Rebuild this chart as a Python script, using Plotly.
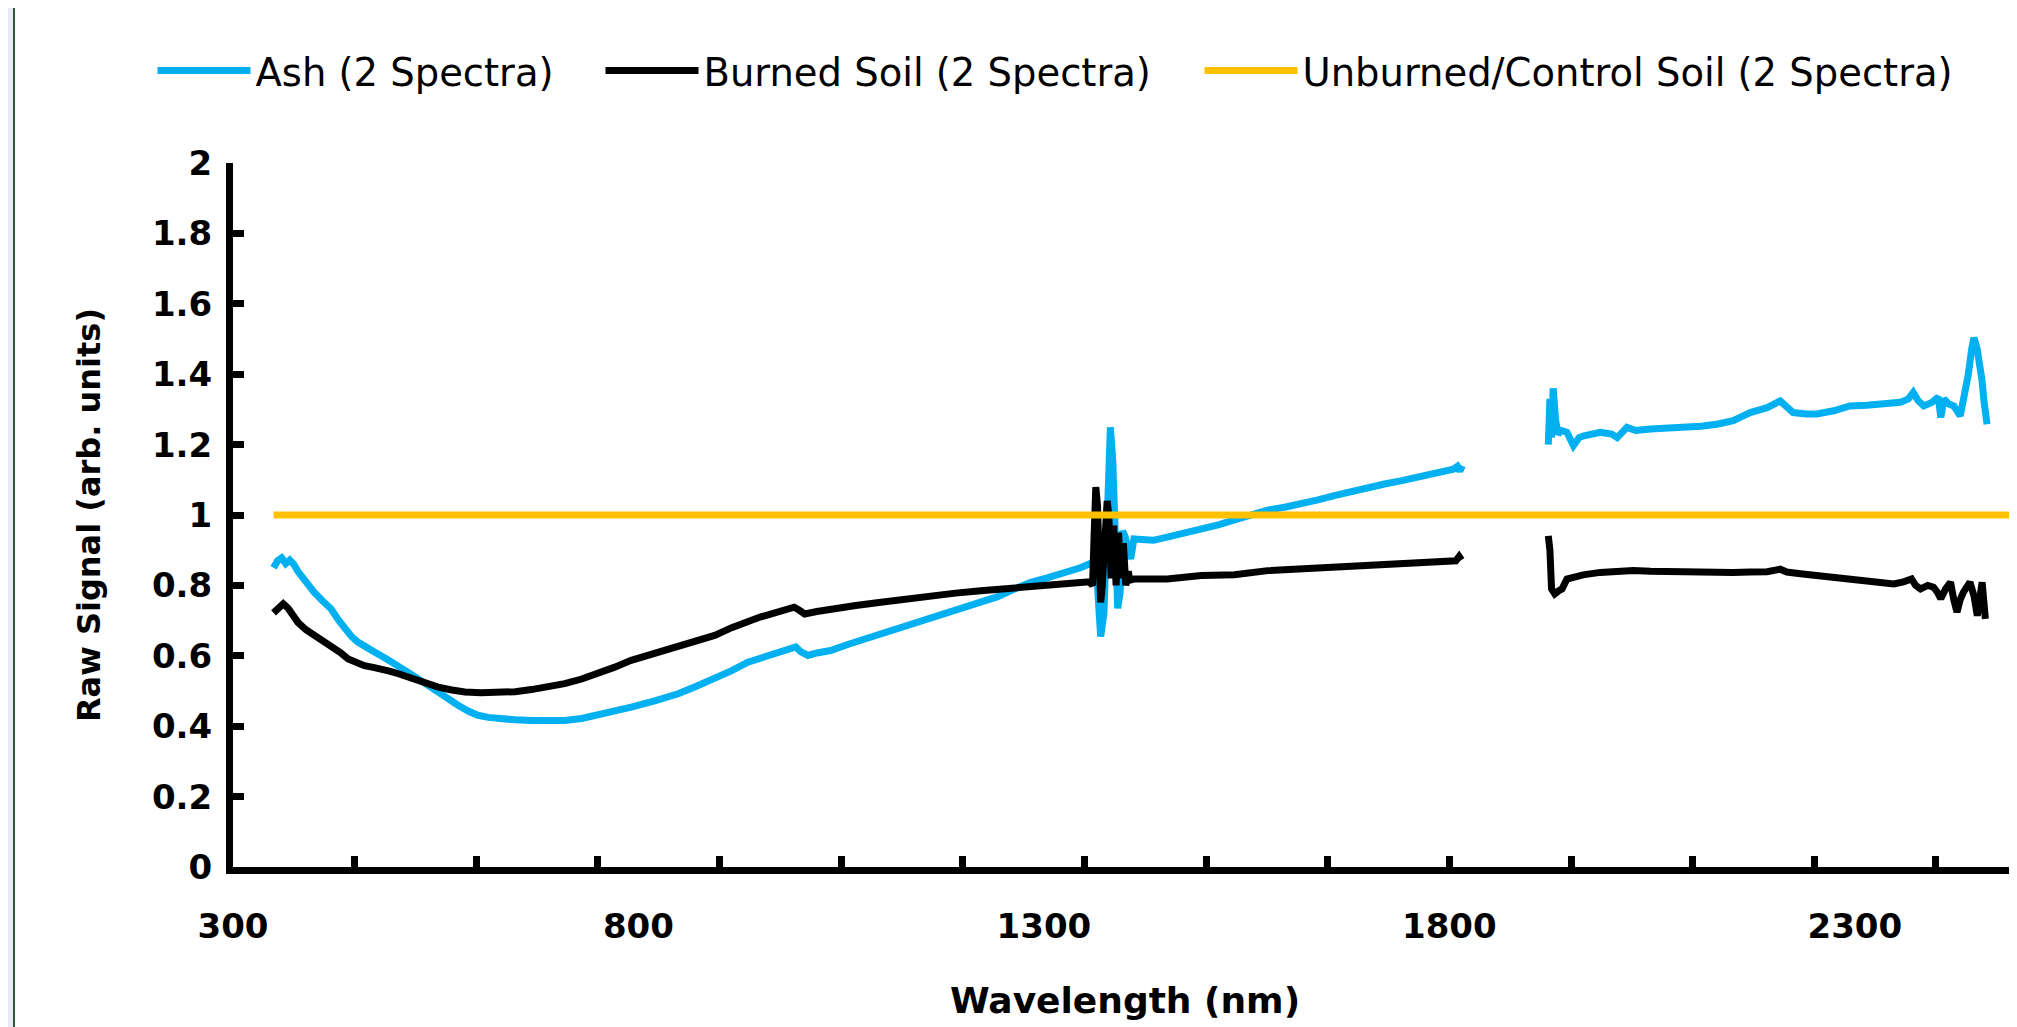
import plotly.graph_objects as go

# ---------------- data ----------------
ash_wl = [350, 355, 360, 365, 370, 375, 380, 390, 400, 410, 421, 430, 438, 446, 454, 465, 475, 490,
          504, 516, 528, 540, 553, 565, 578, 590, 602, 615, 627, 648, 668, 690, 709, 730, 750, 770,
          791, 820, 849, 870, 894, 915, 935, 955, 968, 982, 994, 1000, 1009, 1020, 1037, 1058, 1079,
          1100, 1120, 1140, 1161, 1180, 1202, 1222, 1243, 1264, 1284, 1305, 1325, 1345, 1355, 1362,
          1366, 1370, 1374, 1378, 1382, 1385, 1388, 1391, 1394, 1397, 1400, 1403, 1407, 1411, 1420,
          1435, 1452, 1473, 1494, 1515, 1535, 1556, 1576, 1597, 1617, 1638, 1658, 1679, 1699, 1720,
          1740, 1761, 1781, 1795, 1805, 1810, 1813, 1816, 1870,
          1922, 1924, 1926, 1928, 1931, 1934, 1938, 1945, 1953, 1960, 1966, 1986, 2000, 2007, 2019,
          2030, 2048, 2068, 2089, 2110, 2130, 2150, 2171, 2192, 2208, 2216, 2224, 2240, 2253, 2274,
          2294, 2315, 2335, 2356, 2366, 2372, 2378, 2385, 2395, 2403, 2406, 2410, 2416, 2422, 2430,
          2436, 2440, 2444, 2447, 2451, 2454, 2457, 2459, 2463]
ash_val = [0.850, 0.870, 0.878, 0.862, 0.872, 0.860, 0.840, 0.808, 0.781, 0.757, 0.733, 0.702, 0.677,
           0.655, 0.639, 0.622, 0.610, 0.590, 0.572, 0.553, 0.535, 0.516, 0.497, 0.477, 0.459, 0.443,
           0.431, 0.425, 0.421, 0.418, 0.416, 0.415, 0.416, 0.422, 0.431, 0.442, 0.454, 0.472, 0.492,
           0.512, 0.535, 0.558, 0.582, 0.597, 0.606, 0.613, 0.625, 0.612, 0.601, 0.608, 0.615, 0.632,
           0.648, 0.663, 0.677, 0.693, 0.710, 0.724, 0.738, 0.752, 0.768, 0.790, 0.809, 0.822, 0.835,
           0.850, 0.860, 0.868, 0.800, 0.655, 0.720, 0.980, 1.249, 1.150, 0.900, 0.735, 0.780, 0.955,
           0.940, 0.900, 0.875, 0.932, 0.930, 0.928, 0.937, 0.948, 0.960, 0.972, 0.986, 1.000, 1.014,
           1.022, 1.031, 1.043, 1.055, 1.067, 1.079, 1.088, 1.097, 1.107, 1.116, 1.122, 1.130, 1.138,
           1.125, 1.140, None,
           1.200, 1.330, 1.220, 1.360, 1.270, 1.230, 1.240, 1.235, 1.197, 1.220, 1.225, 1.235, 1.230,
           1.220, 1.249, 1.240, 1.244, 1.245, 1.249, 1.252, 1.258, 1.268, 1.291, 1.305, 1.324, 1.310,
           1.291, 1.287, 1.287, 1.296, 1.310, 1.312, 1.315, 1.320, 1.330, 1.348, 1.325, 1.310, 1.320,
           1.335, 1.277, 1.330, 1.315, 1.310, 1.282, 1.340, 1.400, 1.470, 1.504, 1.470, 1.433, 1.380,
           1.329, 1.258]

burned_wl = [350, 356, 362, 368, 375, 380, 390, 401, 411, 421, 432, 442, 452, 462, 473, 483, 494, 504,
             516, 528, 540, 553, 570, 586, 606, 627, 648, 668, 688, 709, 730, 750, 770, 791, 820, 849,
             872, 894, 915, 935, 950, 964, 978, 992, 998, 1005, 1020, 1037, 1068, 1099, 1130, 1161,
             1191, 1222, 1253, 1284, 1305, 1325, 1345, 1356, 1360, 1362, 1364, 1366, 1368, 1370, 1372,
             1375, 1378, 1380, 1383, 1386, 1389, 1392, 1395, 1398, 1401, 1404, 1406, 1411, 1430, 1452,
             1494, 1535, 1576, 1617, 1658, 1700, 1740, 1780, 1802, 1808, 1812, 1815, 1870,
             1922, 1924, 1926, 1930, 1935, 1939, 1945, 1965, 1986, 2007, 2027, 2048, 2068, 2089, 2109,
             2130, 2150, 2171, 2192, 2208, 2216, 2233, 2253, 2274, 2294, 2315, 2331, 2348, 2360, 2370,
             2375, 2381, 2390, 2397, 2402, 2406, 2412, 2418, 2422, 2426, 2430, 2434, 2442, 2447, 2451,
             2454, 2457, 2461]
burned_val = [0.722, 0.738, 0.748, 0.735, 0.712, 0.695, 0.674, 0.658, 0.643, 0.629, 0.610, 0.591, 0.580,
              0.572, 0.567, 0.563, 0.556, 0.549, 0.539, 0.530, 0.520, 0.511, 0.503, 0.497, 0.495, 0.495,
              0.498, 0.504, 0.511, 0.521, 0.534, 0.549, 0.567, 0.587, 0.606, 0.625, 0.643, 0.658, 0.680,
              0.700, 0.710, 0.719, 0.726, 0.738, 0.730, 0.719, 0.726, 0.733, 0.743, 0.752, 0.762, 0.771,
              0.778, 0.785, 0.792, 0.799, 0.802, 0.804, 0.808, 0.810, 0.800, 0.950, 1.079, 1.030, 0.800,
              0.752, 0.800, 0.980, 1.040, 1.000, 0.820, 0.970, 0.800, 0.950, 0.820, 0.920, 0.800, 0.840,
              0.815, 0.818, 0.818, 0.818, 0.828, 0.830, 0.842, 0.847, 0.852, 0.856, 0.861, 0.864, 0.866,
              0.870, 0.882, 0.872, None,
              0.941, 0.900, 0.790, 0.776, 0.785, 0.790, 0.818, 0.830, 0.837, 0.840, 0.842, 0.840, 0.839,
              0.837, 0.835, 0.836, 0.837, 0.838, 0.839, 0.846, 0.838, 0.833, 0.828, 0.823, 0.818, 0.814,
              0.809, 0.804, 0.810, 0.818, 0.800, 0.790, 0.800, 0.795, 0.780, 0.762, 0.790, 0.809, 0.760,
              0.724, 0.760, 0.781, 0.809, 0.770, 0.714, 0.760, 0.809, 0.705]

control_wl = [350, 2500]
control_val = [1.0, 1.0]

series_names = ["Ash (2 Spectra)", "Burned Soil (2 Spectra)", "Unburned/Control Soil (2 Spectra)"]
series_colors = ["#00B0F0", "#000000", "#FFC000"]

x_label_vals = [300, 800, 1300, 1800, 2300]
x_tick_marks = list(range(300, 2401, 150))
y_tick_vals = [0, 0.2, 0.4, 0.6, 0.8, 1.0, 1.2, 1.4, 1.6, 1.8, 2.0]
y_tick_text = ["0", "0.2", "0.4", "0.6", "0.8", "1", "1.2", "1.4", "1.6", "1.8", "2"]

# ---------------- figure ----------------
# the page body keeps its default 8 px margin, so the figure is 8 px smaller
BODY = 8
W, H = 2017 - BODY, 1027 - BODY
ML, MR, MT, MB = 225, 0, 155, 160
PW, PH = W - ML - MR, H - MT - MB

fig = go.Figure()
fig.add_trace(go.Scatter(x=ash_wl, y=ash_val, mode="lines", name=series_names[0],
                         line=dict(color=series_colors[0], width=7), legend="legend"))
fig.add_trace(go.Scatter(x=burned_wl, y=burned_val, mode="lines", name=series_names[1],
                         line=dict(color=series_colors[1], width=7), legend="legend2"))
fig.add_trace(go.Scatter(x=control_wl, y=control_val, mode="lines", name=series_names[2],
                         line=dict(color=series_colors[2], width=7), legend="legend3",
                         xaxis="x2"))

def px_to_paper_x(px):
    return (px - ML) / PW

def px_to_paper_y(py):
    return 1 - (py - MT) / PH

legend_font = dict(family="DejaVu Sans", size=38.5, color="#000000")
leg_y = px_to_paper_y(63)
common_leg = dict(orientation="h", yanchor="middle", y=leg_y, xanchor="left",
                  font=legend_font, itemwidth=93, bgcolor="rgba(0,0,0,0)", borderwidth=0,
                  itemclick=False)

fig.update_layout(
    width=W, height=H,
    margin=dict(l=ML, r=MR, t=MT, b=MB, pad=0),
    paper_bgcolor="#FFFFFF", plot_bgcolor="#FFFFFF",
    showlegend=True,
    legend=dict(common_leg, x=px_to_paper_x(144.5)),
    legend2=dict(common_leg, x=px_to_paper_x(592.5)),
    legend3=dict(common_leg, x=px_to_paper_x(1191.5)),
    xaxis=dict(range=[300, 2500], tickmode="array", tickvals=x_label_vals,
               ticktext=[str(v) for v in x_label_vals], ticks="", showline=True,
               linecolor="#000000", linewidth=7, showgrid=False, zeroline=False,
               tickfont=dict(family="DejaVu Sans", size=34, color="#000000", weight="bold"),
               ticklabelstandoff=23,
               title=dict(text="<b>Wavelength (nm)</b>", standoff=46,
                          font=dict(family="DejaVu Sans", size=36, color="#000000"))),
    xaxis2=dict(range=[300, 2500], overlaying="x", anchor="y", side="bottom",
                tickmode="array", tickvals=x_tick_marks, ticks="inside", ticklen=11,
                tickwidth=7, tickcolor="#000000", showticklabels=False, showline=False,
                showgrid=False, zeroline=False),
    yaxis=dict(range=[0, 2], tickmode="array", tickvals=y_tick_vals, ticktext=y_tick_text,
               ticks="inside", ticklen=11, tickwidth=7, tickcolor="#000000", showline=True,
               linecolor="#000000", linewidth=7, showgrid=False, zeroline=False,
               tickfont=dict(family="DejaVu Sans", size=34, color="#000000", weight="bold"),
               ticklabelstandoff=7,
               title=dict(text="<b>Raw Signal (arb. units)</b>", standoff=44,
                          font=dict(family="DejaVu Sans", size=32, color="#000000"))),
    shapes=[
        dict(type="rect", xref="paper", yref="paper", x0=px_to_paper_x(0), x1=px_to_paper_x(5),
             y0=px_to_paper_y(H), y1=px_to_paper_y(0), fillcolor="#E8E8F8", line=dict(width=0),
             layer="below"),
        dict(type="rect", xref="paper", yref="paper", x0=px_to_paper_x(5), x1=px_to_paper_x(7),
             y0=px_to_paper_y(H), y1=px_to_paper_y(0), fillcolor="#2E5A2E", line=dict(width=0),
             layer="below"),
    ],
)

fig.write_html("out.html")
